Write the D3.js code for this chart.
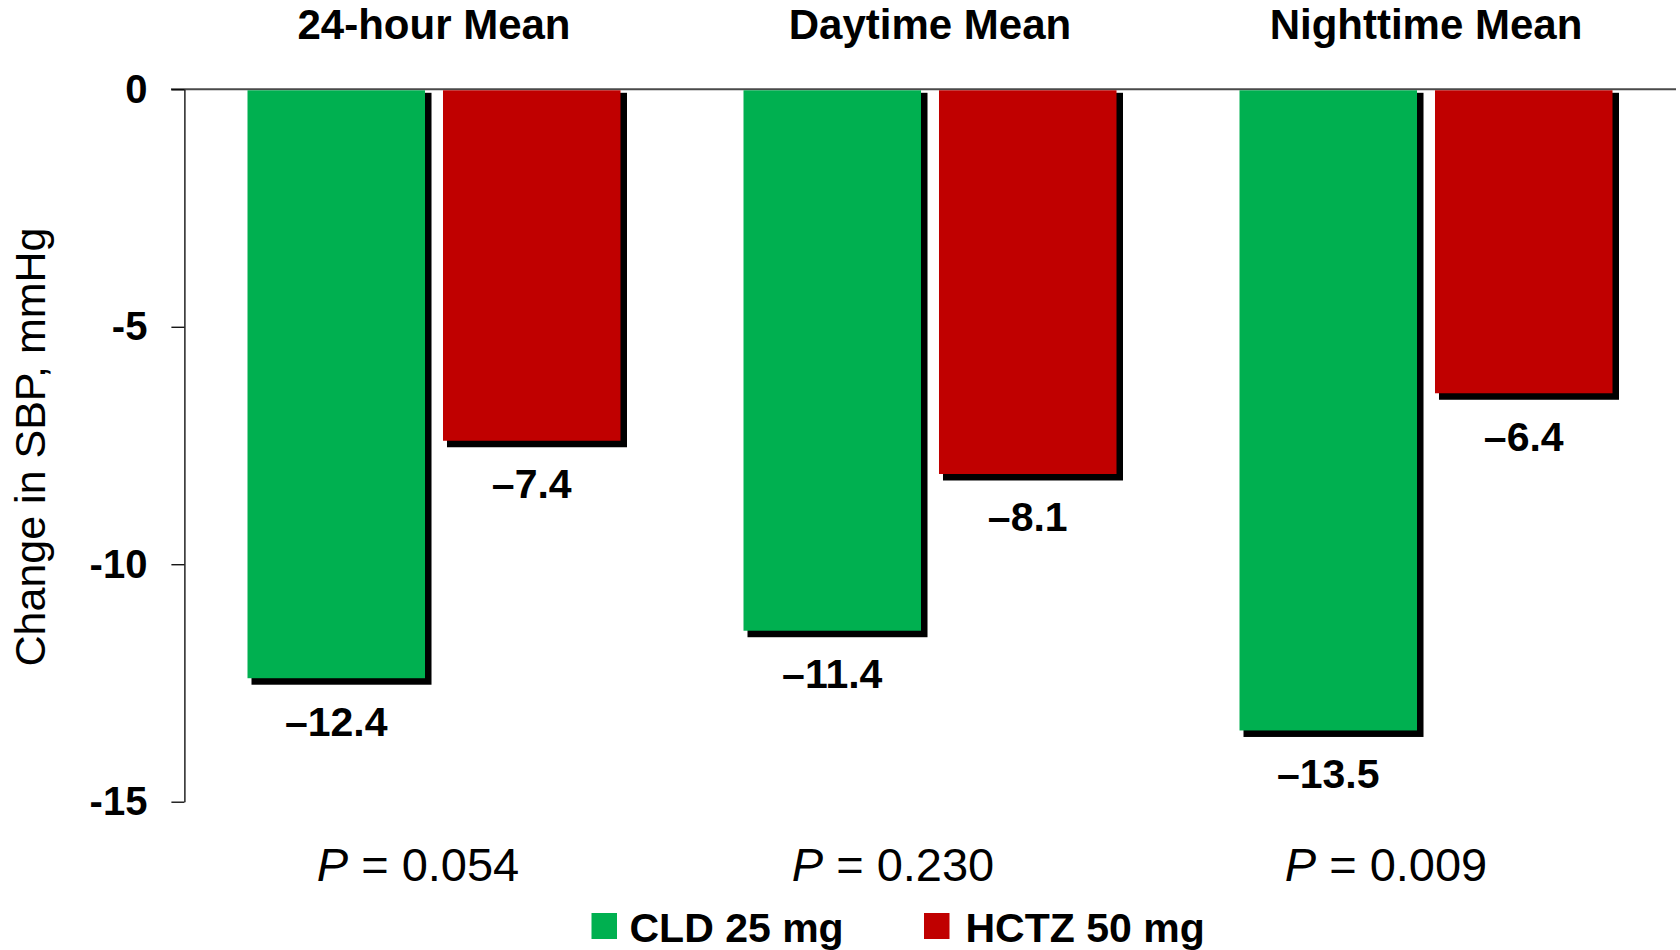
<!DOCTYPE html>
<html>
  <head>
    <meta charset="utf-8" />
    <script src="https://d3js.org/d3.v7.min.js"></script>
    <style>
      body {
        margin: 0;
        background: #fff;
      }
      text {
        font-family: "Liberation Sans", Arial, sans-serif;
      }
    </style>
  </head>
  <body>
    <div id="my_chart"></div>
    <script>
      // data
      const groups = ["24-hour Mean", "Daytime Mean", "Nighttime Mean"];
      const series = ["CLD 25 mg", "HCTZ 50 mg"];
      const cldValues = [-12.4, -11.4, -13.5];
      const hctzValues = [-7.4, -8.1, -6.4];
      const pValues = ["0.054", "0.230", "0.009"];
      const yTicks = [0, -5, -10, -15];

      const colors = ["#00b050", "#c00000"];
      const width = 1680,
        height = 950;

      const svg = d3
        .select("#my_chart")
        .append("svg")
        .attr("width", width)
        .attr("height", height);

      // scales
      const y = d3.scaleLinear().domain([-15, 0]).range([801.7, 89.3]);
      const x0 = d3.scaleBand().domain(groups).range([186, 1674]);
      const pairPad = 61.5;
      const x1 = d3
        .scaleBand()
        .domain(series)
        .range([pairPad, x0.bandwidth() - pairPad])
        .paddingInner(0.092);

      const data = groups.map((g, i) => ({
        group: g,
        values: [
          { key: series[0], value: cldValues[i] },
          { key: series[1], value: hctzValues[i] },
        ],
      }));

      // zero line across the top
      svg
        .append("line")
        .attr("x1", 171)
        .attr("x2", 1676)
        .attr("y1", y(0))
        .attr("y2", y(0))
        .attr("stroke", "#4a4a4a")
        .attr("stroke-width", 2);

      // Y axis
      const yAxis = svg
        .append("g")
        .attr("transform", "translate(184.4,0)")
        .call(
          d3
            .axisLeft(y)
            .tickValues(yTicks)
            .tickSize(13)
            .tickSizeOuter(0)
            .tickPadding(24)
            .tickFormat((d) => (d === 0 ? "0" : "-" + Math.abs(d)))
        );
      yAxis.select(".domain").attr("stroke", "#000").attr("stroke-width", 1.3);
      yAxis.selectAll(".tick line").attr("stroke", "#000").attr("stroke-width", 1.3);
      yAxis
        .selectAll(".tick text")
        .attr("font-family", "Liberation Sans, Arial, sans-serif")
        .attr("font-size", 40)
        .attr("font-weight", "bold")
        .attr("fill", "#000");

      // Y title
      svg
        .append("text")
        .attr("transform", "translate(45,447) rotate(-90)")
        .attr("text-anchor", "middle")
        .attr("font-size", 43)
        .text("Change in SBP, mmHg");

      // groups
      const gGroups = svg
        .selectAll(".grp")
        .data(data)
        .enter()
        .append("g")
        .attr("class", "grp")
        .attr("transform", (d) => `translate(${x0(d.group)},0)`);

      // group titles
      gGroups
        .append("text")
        .attr("x", x0.bandwidth() / 2)
        .attr("y", 39.3)
        .attr("text-anchor", "middle")
        .attr("font-size", 42)
        .attr("font-weight", "bold")
        .text((d) => d.group);

      // shadows
      gGroups
        .selectAll(".shadow")
        .data((d) => d.values)
        .enter()
        .append("rect")
        .attr("class", "shadow")
        .attr("x", (d) => x1(d.key) + 4)
        .attr("y", y(0) + 3.5)
        .attr("width", x1.bandwidth() + 2.5)
        .attr("height", (d) => y(d.value) - y(0) + 3)
        .attr("fill", "#000");

      // bars
      gGroups
        .selectAll(".bar")
        .data((d) => d.values)
        .enter()
        .append("rect")
        .attr("class", "bar")
        .attr("x", (d) => x1(d.key))
        .attr("y", y(0) + 1)
        .attr("width", x1.bandwidth())
        .attr("height", (d) => y(d.value) - y(0) - 1)
        .attr("fill", (d, i) => colors[i]);

      // value labels
      gGroups
        .selectAll(".val")
        .data((d) => d.values)
        .enter()
        .append("text")
        .attr("class", "val")
        .attr("x", (d) => x1(d.key) + x1.bandwidth() / 2)
        .attr("y", (d) => y(d.value) + 57.5)
        .attr("text-anchor", "middle")
        .attr("font-size", 41)
        .attr("font-weight", "bold")
        .text((d) => "\u2013" + Math.abs(d.value).toFixed(1));

      // P values
      const pNudge = [-16, -37, -40];
      const pText = svg
        .selectAll(".pval")
        .data(pValues)
        .enter()
        .append("text")
        .attr("class", "pval")
        .attr("x", (d, i) => x0(groups[i]) + x0.bandwidth() / 2 + pNudge[i])
        .attr("y", 881)
        .attr("text-anchor", "middle")
        .attr("font-size", 47);
      pText.append("tspan").attr("font-style", "italic").text("P");
      pText.append("tspan").text((d) => " = " + d);

      // legend
      const legendX = [591.5, 924];
      const legend = svg
        .selectAll(".legend")
        .data(series)
        .enter()
        .append("g")
        .attr("class", "legend")
        .attr("transform", (d, i) => `translate(${legendX[i]},913)`);
      legend
        .append("rect")
        .attr("width", 25.5)
        .attr("height", 26)
        .attr("fill", (d, i) => colors[i]);
      legend
        .append("text")
        .attr("x", (d, i) => (i === 0 ? 38 : 41.5))
        .attr("y", 28.7)
        .attr("font-size", 41)
        .attr("font-weight", "bold")
        .text((d) => d);
    </script>
  </body>
</html>
